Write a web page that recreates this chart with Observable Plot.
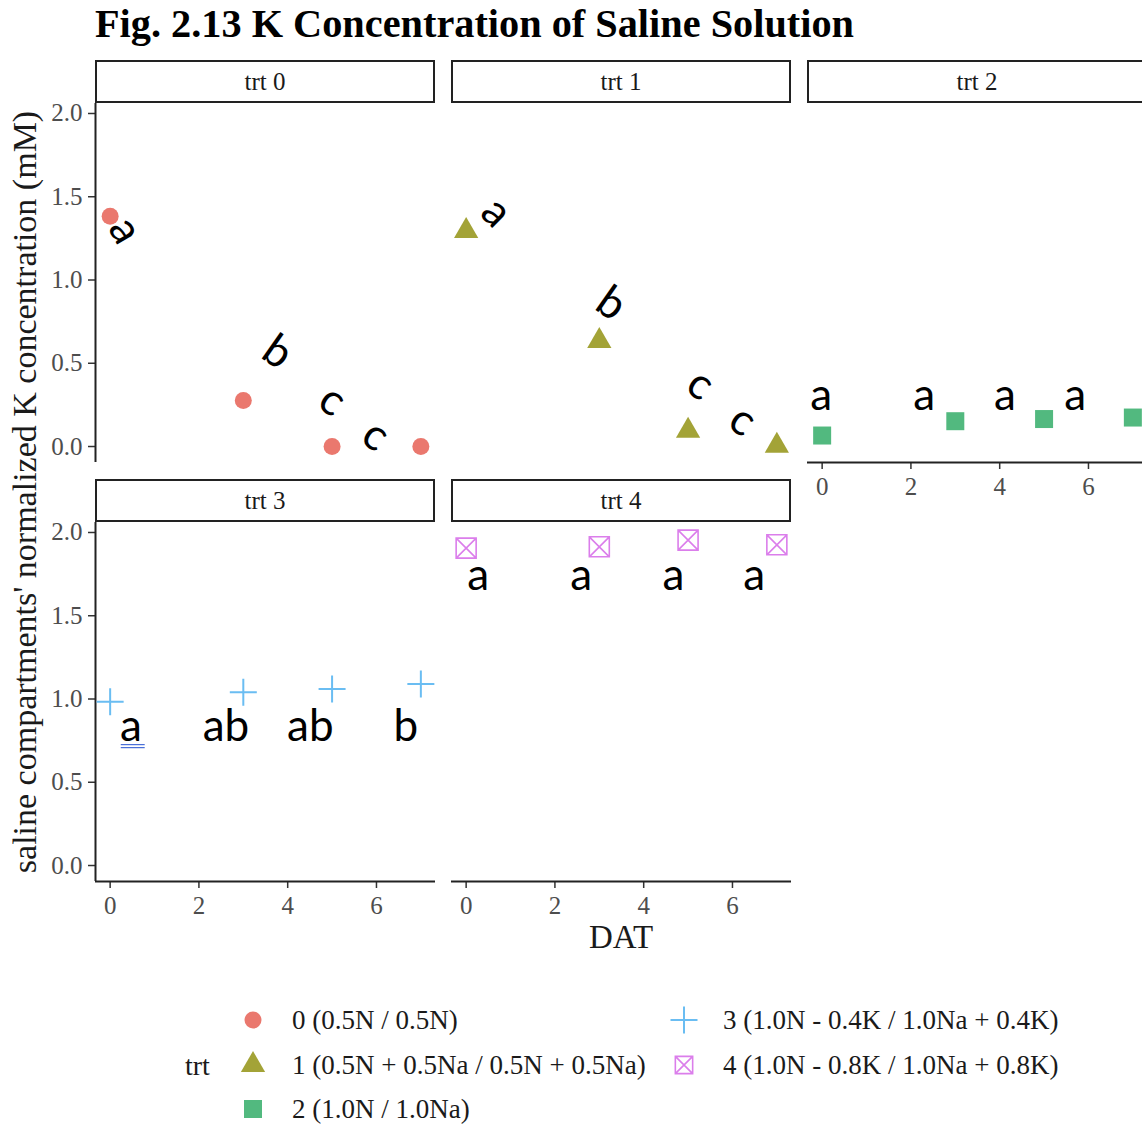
<!DOCTYPE html>
<html><head><meta charset="utf-8">
<script src="https://cdn.jsdelivr.net/npm/d3@7"></script>
<script src="https://cdn.jsdelivr.net/npm/@observablehq/plot@0.6"></script>
<style>
html,body{margin:0;padding:0;background:#fff;overflow:hidden;}
#root{position:relative;width:1142px;height:1135px;overflow:hidden;font-family:"Liberation Serif","Times New Roman",serif;color:#1a1a1a;}
.strip{position:absolute;box-sizing:border-box;border:2px solid #222;background:#fff;display:flex;align-items:center;justify-content:center;font-size:25px;color:#1a1a1a;}
svg{overflow:visible;}
</style></head><body><div id="root"></div>
<script>
// ---------------- data ----------------
const trtLevels = ["0", "1", "2", "3", "4"];
const trtLabels = ["0 (0.5N / 0.5N)", "1 (0.5N + 0.5Na / 0.5N + 0.5Na)", "2 (1.0N / 1.0Na)", "3 (1.0N - 0.4K / 1.0Na + 0.4K)", "4 (1.0N - 0.8K / 1.0Na + 0.8K)"];
const dat = [0, 3, 5, 7];
const kTrt0 = [1.383, 0.276, 0.0, 0.0];
const kTrt1 = [1.295, 0.634, 0.094, 0.004];
const kTrt2 = [0.066, 0.152, 0.165, 0.174];
const kTrt3 = [0.984, 1.04, 1.06, 1.09];
const kTrt4 = [1.906, 1.914, 1.954, 1.926];
const xTicks = [0, 2, 4, 6];
const yTicks = [0, 0.5, 1.0, 1.5, 2.0];
// significance letters (position in data units, rotation in degrees)
const let0 = ["a", "b", "c", "c"], let0X = [0.34, 3.77, 5.01, 5.98], let0Y = [1.297, 0.566, 0.276, 0.066], let0R = [60, 35, 35, 35];
const let1 = ["a", "b", "c", "c"], let1X = [0.68, 3.27, 5.28, 6.23], let1Y = [1.407, 0.857, 0.372, 0.156], let1R = [45, 35, 35, 35];
const let2 = ["a", "a", "a", "a"], let2X = [-0.02, 2.30, 4.12, 5.70], let2Y = [0.304, 0.304, 0.304, 0.304], let2R = [0, 0, 0, 0];
const let3 = ["a", "ab", "ab", "b"], let3X = [0.47, 2.61, 4.51, 6.66], let3Y = [0.832, 0.832, 0.832, 0.832], let3R = [0, 0, 0, 0];
const let4 = ["a", "a", "a", "a"], let4X = [0.27, 2.59, 4.67, 6.49], let4Y = [1.738, 1.738, 1.738, 1.738], let4R = [0, 0, 0, 0];
// blue double proofing underline under the first letter of trt 3
const underline3Y = [0.726, 0.708], underline3X1 = [0.25, 0.25], underline3X2 = [0.79, 0.79];

// ---------------- styles ----------------
const colors = ["#EA786E", "#A3A337", "#52B97F", "#6ABDF2", "#DB7EEB"];
const rad = v => Math.sqrt(v / Math.PI);
const symCircle = {draw(c, s) { const r = rad(s); c.moveTo(r, 0); c.arc(0, 0, r, 0, 2 * Math.PI); }};
const symTriangle = {draw(c, s) { const R = rad(s), h = R * Math.sqrt(3) / 2; c.moveTo(0, -R); c.lineTo(h, R / 2); c.lineTo(-h, R / 2); c.closePath(); }};
const symSquare = {draw(c, s) { const r = rad(s); c.rect(-r, -r, 2 * r, 2 * r); }};
const symPlus = {draw(c, s) { const r = rad(s); c.moveTo(-r, 0); c.lineTo(r, 0); c.moveTo(0, -r); c.lineTo(0, r); }};
const symBoxX = {draw(c, s) { const r = rad(s); c.rect(-r, -r, 2 * r, 2 * r); c.moveTo(-r, -r); c.lineTo(r, r); c.moveTo(r, -r); c.lineTo(-r, r); }};
const symbols = [symCircle, symTriangle, symSquare, symPlus, symBoxX];
const symR = [8.5, 14, 9, 13.5, 10];
const filled = [true, true, true, false, false];
const strokeW = [0, 0, 0, 2, 1.6];

const xDom = [-0.33, 7.33], yDom = [-0.096, 2.06];
const PW = 340, PH = 359;

const root = document.getElementById("root");
function el(tag, style, text) { const e = document.createElement(tag); Object.assign(e.style, style); if (text != null) e.textContent = text; root.appendChild(e); return e; }

function panel(i, values, L, LX, LY, LR, left, top, yAxis, xAxis, extra = []) {
  const ML = yAxis ? 95 : 2, MR = 40, MT = 2, MB = xAxis ? 50 : 4;
  const pts = dat.map((d, j) => ({dat: d, k: values[j]}));
  const labs = L.map((t, j) => ({t, x: LX[j], y: LY[j], r: LR[j]}));
  const marks = [];
  if (yAxis) {
    marks.push(Plot.axisY({ticks: yTicks, tickFormat: d3.format(".1f"), tickSize: 7, tickPadding: 6, fontSize: 25, stroke: "#333", fill: "#4d4d4d", strokeWidth: 1.5, label: null}));
    marks.push(Plot.ruleX([xDom[0]], {stroke: "#222", strokeWidth: 2}));
  }
  if (xAxis) {
    marks.push(Plot.axisX({ticks: xTicks, tickFormat: d3.format("d"), tickSize: 7, tickPadding: 8, fontSize: 25, stroke: "#333", fill: "#4d4d4d", strokeWidth: 1.5, label: null}));
    marks.push(Plot.ruleY([yDom[0]], {stroke: "#222", strokeWidth: 2}));
  }
  const dotOpts = {x: "dat", y: "k", symbol: symbols[i], r: symR[i]};
  if (filled[i]) { dotOpts.fill = colors[i]; dotOpts.stroke = "none"; }
  else { dotOpts.fill = "none"; dotOpts.stroke = colors[i]; dotOpts.strokeWidth = strokeW[i]; }
  marks.push(Plot.dot(pts, dotOpts));
  marks.push(Plot.text(labs, {x: "x", y: "y", text: "t", rotate: "r", fontSize: 44, fontFamily: "Lato", fill: "#000", textAnchor: "middle", lineAnchor: "middle"}));
  marks.push(...extra);
  const xOpt = {domain: xDom}, yOpt = {domain: yDom};
  if (!xAxis) xOpt.axis = null;
  if (!yAxis) yOpt.axis = null;
  const svg = Plot.plot({
    width: ML + PW + MR, height: MT + PH + MB,
    marginLeft: ML, marginRight: MR, marginTop: MT, marginBottom: MB,
    x: xOpt, y: yOpt,
    style: {fontFamily: "'Liberation Serif', 'Times New Roman', serif", background: "transparent", overflow: "visible"},
    marks
  });
  svg.style.position = "absolute";
  svg.style.left = (left - ML) + "px";
  svg.style.top = (top - MT) + "px";
  root.appendChild(svg);
  // strip
  el("div", {left: left + "px", top: (top - 43) + "px", width: PW + "px", height: "43px"}, "trt " + trtLevels[i]).className = "strip";
  return svg;
}

const underline = Plot.ruleY(underline3Y.map((y, j) => ({y, x1: underline3X1[j], x2: underline3X2[j]})),
  {y: "y", x1: "x1", x2: "x2", stroke: "#4a6fd8", strokeWidth: 1.2});

panel(0, kTrt0, let0, let0X, let0Y, let0R, 95, 103, true, false);
panel(1, kTrt1, let1, let1X, let1Y, let1R, 451, 103, false, false);
panel(2, kTrt2, let2, let2X, let2Y, let2R, 807, 103, false, true);
panel(3, kTrt3, let3, let3X, let3Y, let3R, 95, 522, true, true, [underline]);
panel(4, kTrt4, let4, let4X, let4Y, let4R, 451, 522, false, true);

// title
el("div", {position: "absolute", left: "95px", top: "4px", fontSize: "40.3px", lineHeight: "40px", fontWeight: "bold", color: "#000", whiteSpace: "nowrap"}, "Fig. 2.13 K Concentration of Saline Solution");
// axis titles
el("div", {position: "absolute", left: "25px", top: "492px", transform: "translate(-50%,-50%) rotate(-90deg)", fontSize: "34px", whiteSpace: "nowrap", color: "#1a1a1a"}, "saline compartments' normalized K concentration (mM)");
el("div", {position: "absolute", left: "621px", top: "937px", transform: "translate(-50%,-50%)", fontSize: "33px", whiteSpace: "nowrap", color: "#1a1a1a"}, "DAT");

// legend
el("div", {position: "absolute", left: "185px", top: "1066px", transform: "translateY(-50%)", fontSize: "28px", color: "#1a1a1a"}, "trt");
const symX = [253, 684], txtX = [292, 723], rowY = [1020, 1065, 1109];
trtLevels.forEach((t, i) => {
  const col = i < 3 ? 0 : 1, row = i < 3 ? i : i - 3;
  const p = d3.path();
  symbols[i].draw(p, Math.PI * symR[i] * symR[i] * (i === 4 ? 0.75 : 1));
  const s = d3.create("svg").attr("width", 40).attr("height", 40).attr("viewBox", "-20 -20 40 40")
    .style("position", "absolute").style("left", (symX[col] - 20) + "px").style("top", (rowY[row] - 20) + "px");
  s.append("path").attr("d", p.toString())
    .attr("fill", filled[i] ? colors[i] : "none")
    .attr("stroke", filled[i] ? "none" : colors[i])
    .attr("stroke-width", strokeW[i]);
  root.appendChild(s.node());
  el("div", {position: "absolute", left: txtX[col] + "px", top: rowY[row] + "px", transform: "translateY(-50%)", fontSize: "27px", whiteSpace: "nowrap", color: "#1a1a1a"}, trtLabels[i]);
});
</script>
</body></html>
